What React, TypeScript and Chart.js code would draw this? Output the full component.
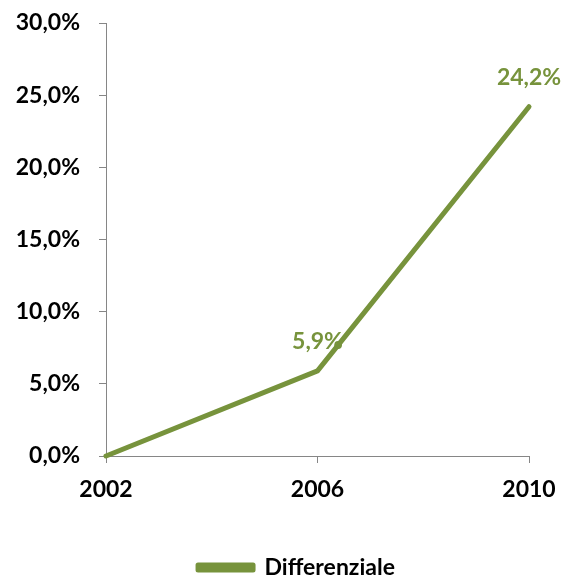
import React, { useEffect, useRef } from "react";
import { Chart, registerables } from "chart.js";

Chart.register(...registerables);

const categories = ["2002", "2006", "2010"];
const seriesName = "Differenziale";
const values = [0, 5.9, 24.2];
const showLabel = [false, true, true];
const yTicks = [0, 5, 10, 15, 20, 25, 30];

const GREEN = "#77933C";
const AXIS = "#868686";
const FONT = "Lato, 'Open Sans', sans-serif";

const fmt = (v: number) => v.toFixed(1).replace(".", ",") + "%";

const dataLabels = {
  id: "dataLabels",
  afterDatasetsDraw(chart: any) {
    const ctx = chart.ctx;
    const meta = chart.getDatasetMeta(0);
    ctx.save();
    ctx.font = `bold 23px ${FONT}`;
    ctx.fillStyle = GREEN;
    ctx.textAlign = "center";
    ctx.textBaseline = "middle";
    meta.data.forEach((el: any, i: number) => {
      if (!showLabel[i]) return;
      ctx.fillText(fmt(values[i]), el.x, el.y - 29);
    });
    ctx.restore();
  },
};

const legendShift = {
  id: "legendShift",
  afterLayout(chart: any) {
    const lg = chart.legend;
    if (lg) {
      lg.left += 32;
      lg.right += 32;
      lg.top += 8;
      lg.bottom += 8;
    }
  },
};

export default function App() {
  const ref = useRef<HTMLCanvasElement>(null);
  useEffect(() => {
    document.body.style.margin = "0";
    const chart = new Chart(ref.current!, {
      type: "line",
      data: {
        labels: categories,
        datasets: [
          {
            label: seriesName,
            data: values,
            borderColor: GREEN,
            backgroundColor: GREEN,
            borderWidth: 5,
            pointRadius: 0,
            pointHoverRadius: 0,
            tension: 0,
            borderCapStyle: "round",
            borderJoinStyle: "round",
            clip: false,
          } as any,
        ],
      },
      options: {
        responsive: false,
        animation: false,
        events: [],
        layout: { padding: { top: 23, right: 45, left: 0, bottom: 0 } },
        scales: {
          x: {
            offset: false,
            grid: {
              display: true,
              drawOnChartArea: false,
              drawTicks: true,
              tickLength: 7,
              color: AXIS,
            } as any,
            border: { display: true, color: AXIS, width: 1 },
            ticks: {
              color: "#000",
              font: { family: FONT, size: 23, weight: "bold" },
              padding: 13,
              maxRotation: 0,
            },
            afterFit: (s: any) => {
              s.height = 92;
            },
          },
          y: {
            min: 0,
            max: 30,
            afterBuildTicks: (s: any) => {
              s.ticks = yTicks.map((v) => ({ value: v }));
            },
            grid: {
              display: true,
              drawOnChartArea: false,
              drawTicks: true,
              tickLength: 7,
              color: AXIS,
            } as any,
            border: { display: true, color: AXIS, width: 1 },
            ticks: {
              color: "#000",
              font: { family: FONT, size: 23, weight: "bold" },
              padding: 19,
              callback: (v: any) => fmt(Number(v)),
            },
            afterFit: (s: any) => {
              s.width = 106;
              s.paddingTop = 0;
              s.paddingBottom = 0;
            },
          },
        },
        plugins: {
          legend: {
            display: true,
            position: "bottom",
            labels: {
              color: "#000",
              font: { family: FONT, size: 23, weight: "bold" },
              boxWidth: 55,
              boxHeight: 5,
              padding: 0,
            },
          },
          tooltip: { enabled: false },
        },
      },
      plugins: [dataLabels, legendShift],
    });
    return () => chart.destroy();
  }, []);
  return (
    <div style={{ width: 574, height: 581 }}>
      <canvas ref={ref} width={574} height={581} />
    </div>
  );
}
